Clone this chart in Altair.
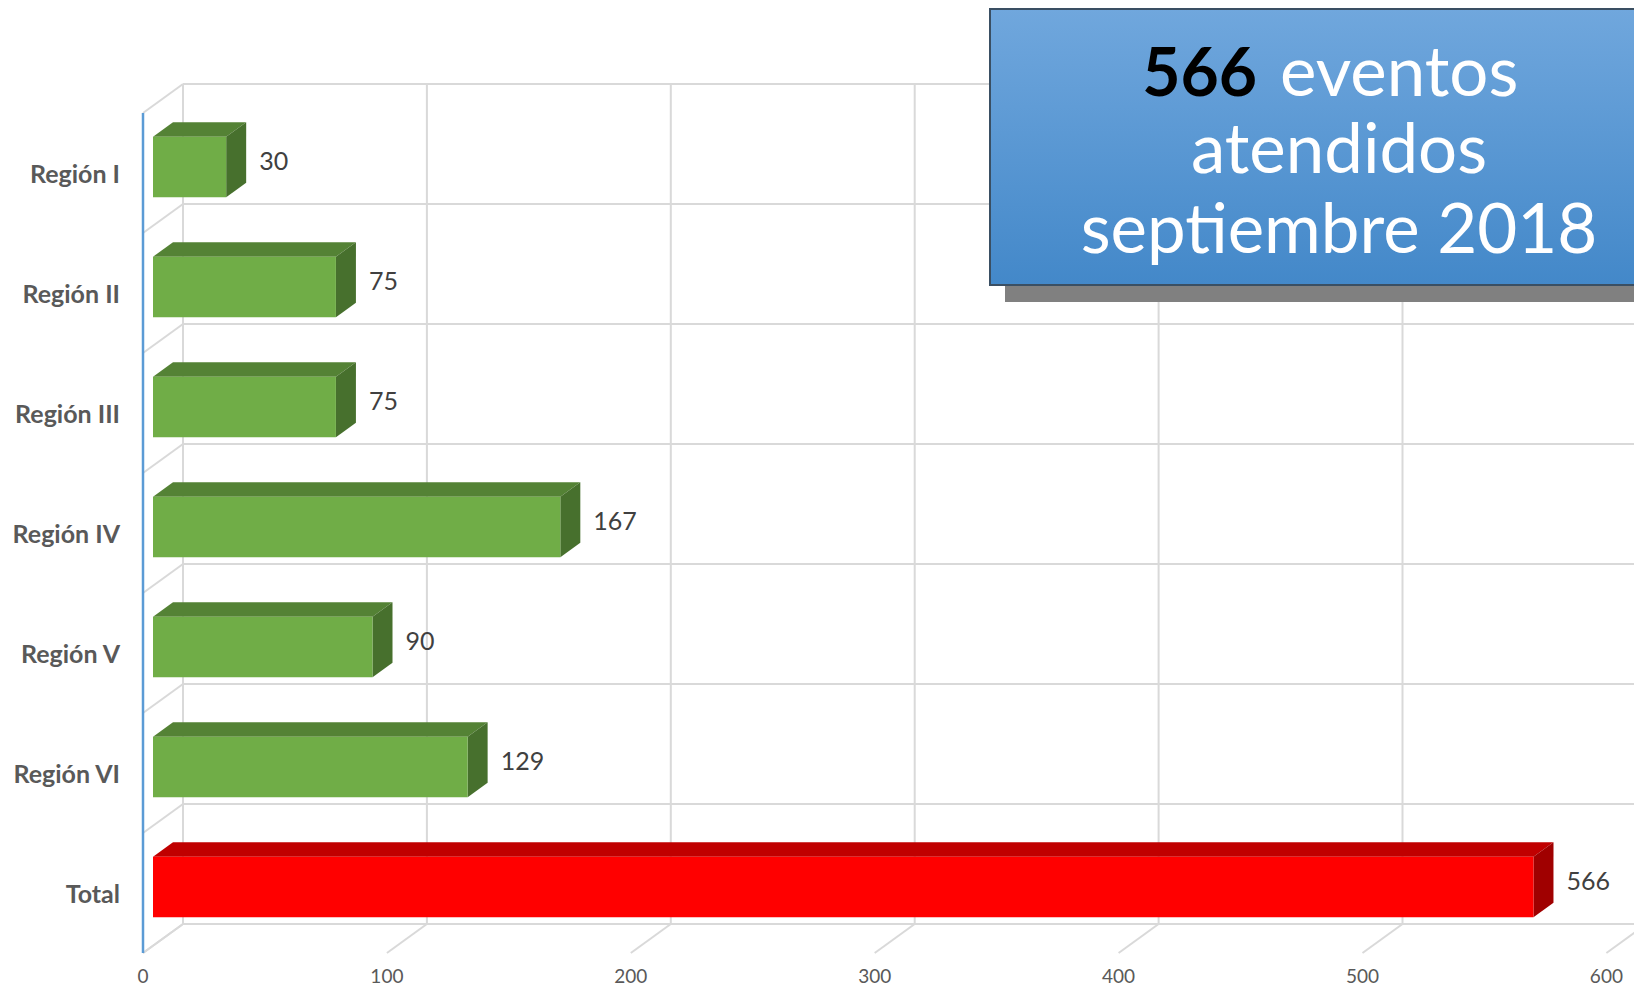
import altair as alt
import pandas as pd

# ---------------- data ----------------
categories = ["Región I", "Región II", "Región III", "Región IV", "Región V", "Región VI", "Total"]
values = [30, 75, 75, 167, 90, 129, 566]
kinds = ["region", "region", "region", "region", "region", "region", "total"]
ticks = [0, 100, 200, 300, 400, 500, 600]

# ---------------- geometry (layout constants) ----------------
W, H = 1626, 982          # whole drawing area (page minus 8px margins)
PX = 2.439                # pixels per unit of value
ROW = 120.0               # pixels per category row
X0 = 135.0                # chart px of value 0 on the front plane
Y0 = 105.0                # chart px of the top of the front plane
XMIN = -X0 / PX
XMAX = XMIN + W / PX
YMIN = -Y0 / ROW
YMAX = YMIN + H / ROW
DX = 40 / PX              # full depth of the 3D box, x (units)
DY = 29 / ROW             # full depth of the 3D box, y (rows)
n = len(categories)

BAR_C = 0.45              # bar centre inside its row
BAR_HALF = 0.2525         # half bar height (rows)
FRONT_X = 0.25 * DX       # bars' front face sits a quarter deep
BDX = 0.5 * DX            # bar depth
BDY = 0.5 * DY

front_col = {"region": "#70ad47", "total": "#ff0000"}
top_col = {"region": "#548235", "total": "#c00000"}
side_col = {"region": "#47702d", "total": "#a00000"}

xs = alt.Scale(domain=[XMIN, XMAX], nice=False, zero=False)
ys = alt.Scale(domain=[YMIN, YMAX], nice=False, zero=False, reverse=True)

# ---------------- derived tables ----------------
front_rows, top_rows, side_rows = [], [], []
for k, (c, v, kd) in enumerate(zip(categories, values, kinds)):
    x0 = FRONT_X
    x1 = v + FRONT_X
    yt = k + BAR_C - BAR_HALF
    yb = k + BAR_C + BAR_HALF
    front_rows.append(dict(cat=c, x0=x0, x1=x1, yt=yt, yb=yb, yc=k + BAR_C,
                           v=v, fill=front_col[kd]))
    for (xx, a, b) in [(x0, yt, yt), (x0 + BDX, yt, yt - BDY),
                       (x1, yt, yt - BDY), (x1 + BDX, yt - BDY, yt - BDY)]:
        top_rows.append(dict(cat=c, x=xx, y=a, y2=b, fill=top_col[kd]))
    for (xx, a, b) in [(x1, yt, yb), (x1 + BDX, yt - BDY, yb - BDY)]:
        side_rows.append(dict(cat=c, x=xx, y=a, y2=b, fill=side_col[kd]))

front_df = pd.DataFrame(front_rows)
top_df = pd.DataFrame(top_rows)
side_df = pd.DataFrame(side_rows)

grid_rows = []
for t in ticks:
    grid_rows.append(dict(x=t + DX, x2=t + DX, y=-DY, y2=n - DY))      # back verticals
    grid_rows.append(dict(x=t, x2=t + DX, y=n, y2=n - DY))             # floor diagonals
for k in range(n + 1):
    grid_rows.append(dict(x=DX, x2=XMAX + 10, y=k - DY, y2=k - DY))    # back horizontals
    grid_rows.append(dict(x=0, x2=DX, y=k, y2=k - DY))                 # wall diagonals
grid_df = pd.DataFrame(grid_rows)

cat_df = pd.DataFrame(dict(cat=categories, y=[k + 0.52 for k in range(n)]))
tick_df = pd.DataFrame(dict(t=ticks, lab=[str(t) for t in ticks]))
one = pd.DataFrame({"a": [0]})

# ---------------- layers ----------------
grid = alt.Chart(grid_df).mark_rule(color="#d9d9d9", strokeWidth=2).encode(
    x=alt.X("x:Q", scale=xs, axis=None), x2="x2:Q",
    y=alt.Y("y:Q", scale=ys, axis=None), y2="y2:Q")

axis_line = alt.Chart(one).mark_rule(color="#5b9bd5", strokeWidth=2.5).encode(
    x=alt.datum(0, scale=xs, axis=None),
    y=alt.datum(0, scale=ys, axis=None),
    y2=alt.datum(n))

front = alt.Chart(front_df).mark_rect().encode(
    x=alt.X("x0:Q", scale=xs, axis=None), x2="x1:Q",
    y=alt.Y("yt:Q", scale=ys, axis=None), y2="yb:Q",
    color=alt.Color("fill:N", scale=None))

top = alt.Chart(top_df).mark_area(orient="vertical").encode(
    x=alt.X("x:Q", scale=xs, axis=None),
    y=alt.Y("y:Q", scale=ys, axis=None), y2="y2:Q",
    detail="cat:N",
    color=alt.Color("fill:N", scale=None))

side = alt.Chart(side_df).mark_area(orient="vertical").encode(
    x=alt.X("x:Q", scale=xs, axis=None),
    y=alt.Y("y:Q", scale=ys, axis=None), y2="y2:Q",
    detail="cat:N",
    color=alt.Color("fill:N", scale=None))

val_labels = alt.Chart(front_df).mark_text(
    align="left", baseline="middle", dx=33, dy=-5,
    font="Lato", fontSize=25, color="#404040").encode(
    x=alt.X("x1:Q", scale=xs, axis=None),
    y=alt.Y("yc:Q", scale=ys, axis=None),
    text="v:Q")

cat_labels = alt.Chart(cat_df).mark_text(
    align="right", baseline="middle", font="Lato", fontWeight="bold",
    fontSize=25, color="#595959").encode(
    x=alt.value(112),
    y=alt.Y("y:Q", scale=ys, axis=None),
    text="cat:N")

tick_labels = alt.Chart(tick_df).mark_text(
    align="center", baseline="middle", font="Lato", fontSize=19,
    color="#595959").encode(
    x=alt.X("t:Q", scale=xs, axis=None),
    y=alt.value(969),
    text="lab:N")

# ---------------- annotation box ----------------
shadow = alt.Chart(one).mark_rect(color="#808080").encode(
    x=alt.value(997), x2=alt.value(1700), y=alt.value(270), y2=alt.value(294))

grad = alt.Gradient(
    gradient="linear",
    stops=[alt.GradientStop(color="#70a7dd", offset=0),
           alt.GradientStop(color="#4388c9", offset=1)],
    x1=0, x2=0, y1=0, y2=1)

box = alt.Chart(one).mark_rect(color=grad, stroke="#3a4f63", strokeWidth=2).encode(
    x=alt.value(982), x2=alt.value(1700), y=alt.value(1), y2=alt.value(277))

t566 = alt.Chart(one).mark_text(
    text="566", align="right", baseline="alphabetic", font="Lato",
    fontWeight="bold", fontSize=66, color="#000000").encode(
    x=alt.value(1249), y=alt.value(88))
tev = alt.Chart(one).mark_text(
    text="eventos", align="left", baseline="alphabetic", font="Lato",
    fontSize=69, color="#ffffff").encode(
    x=alt.value(1272), y=alt.value(88))
tat = alt.Chart(one).mark_text(
    text="atendidos", align="center", baseline="alphabetic", font="Lato",
    fontSize=69, color="#ffffff").encode(
    x=alt.value(1331), y=alt.value(165))
tsep = alt.Chart(one).mark_text(
    text="septiembre 2018", align="center", baseline="alphabetic", font="Lato",
    fontSize=69, color="#ffffff").encode(
    x=alt.value(1331), y=alt.value(245))

chart = alt.layer(
    grid, axis_line, top, side, front, val_labels, cat_labels, tick_labels,
    shadow, box, t566, tev, tat, tsep
).properties(
    width=W, height=H,
    autosize=alt.AutoSizeParams(type="none"),
    padding=0,
).configure_view(stroke=None)

chart.save("out.html", embed_options={"renderer": "svg", "actions": False})
